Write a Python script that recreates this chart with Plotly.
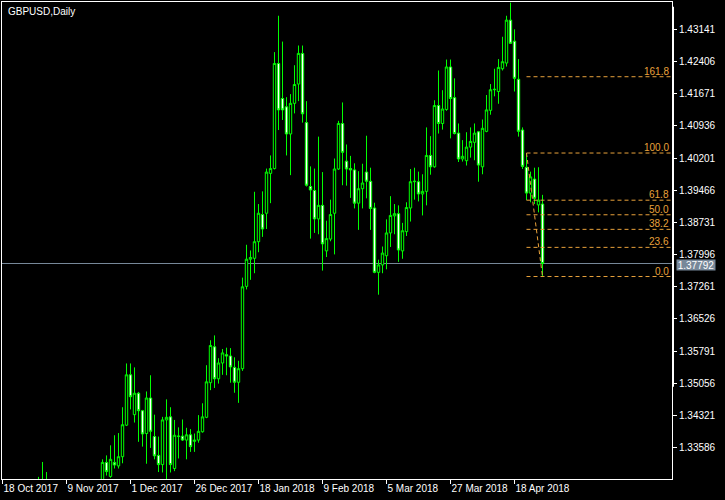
import pandas as pd
import plotly.graph_objects as go

# ---------------- data ----------------
title_text = "GBPUSD,Daily"

holidays = ["2017-12-25", "2018-01-01"]
first_day = "2017-10-18"
last_day = "2018-04-27"

# three early bars whose tops poke into the bottom of the window
early_dates = ["2017-10-31", "2017-11-01", "2017-11-02"]
early_open = [1.3250, 1.3280, 1.3265]
early_high = [1.3292, 1.3326, 1.3303]
early_low = [1.3200, 1.3240, 1.3030]
early_close = [1.3280, 1.3265, 1.3060]

# consecutive trading days starting 2017-11-22
main_start = "2017-11-22"
open_ = [1.3245, 1.3325, 1.3293, 1.3325, 1.3317, 1.3338, 1.3410, 1.3525, 1.3434, 1.3483,
         1.3443, 1.3391, 1.3472, 1.3384, 1.3341, 1.3320, 1.3422, 1.3429, 1.3311, 1.3384,
         1.3385, 1.3376, 1.3388, 1.3373, 1.3376, 1.3395, 1.3428, 1.3507, 1.3589, 1.3516,
         1.3552, 1.3571, 1.3568, 1.3542, 1.3508, 1.3539, 1.3727, 1.3789, 1.3791, 1.3829,
         1.3891, 1.3894, 1.3985, 1.3996, 1.4236, 1.4156, 1.4137, 1.4075, 1.4145, 1.4189,
         1.4259, 1.4101, 1.3955, 1.3946, 1.3881, 1.3912, 1.3808, 1.3835, 1.3894, 1.3995,
         1.4099, 1.4013, 1.3996, 1.3993, 1.3917, 1.3950, 1.3988, 1.3967, 1.3906, 1.3759,
         1.3776, 1.3797, 1.3849, 1.3888, 1.3893, 1.3808, 1.3852, 1.3906, 1.3966, 1.3966,
         1.3938, 1.3944, 1.4026, 1.4000, 1.4140, 1.4099, 1.4131, 1.4228, 1.4158, 1.4077,
         1.4018, 1.4014, 1.4045, 1.4056, 1.4080, 1.4000, 1.4081, 1.4129, 1.4176, 1.4172,
         1.4224, 1.4237, 1.4335, 1.4287, 1.4200, 1.4084, 1.3999, 1.3940, 1.3972, 1.3913,
         1.3915]
high = [1.3332, 1.3341, 1.3364, 1.3387, 1.3392, 1.3451, 1.3551, 1.3551, 1.3542, 1.3486,
        1.3445, 1.3487, 1.3524, 1.3434, 1.3384, 1.3429, 1.3469, 1.3451, 1.3422, 1.3405,
        1.3423, 1.3404, 1.3401, 1.3391, 1.3433, 1.3460, 1.3547, 1.3604, 1.3615, 1.3563,
        1.3584, 1.3587, 1.3586, 1.3565, 1.3557, 1.3747, 1.3822, 1.3809, 1.3943, 1.3915,
        1.3944, 1.3996, 1.4026, 1.4262, 1.4345, 1.4286, 1.4159, 1.4166, 1.4232, 1.4277,
        1.4277, 1.4150, 1.4001, 1.3996, 1.4069, 1.3988, 1.3877, 1.3925, 1.4019, 1.4105,
        1.4147, 1.4051, 1.4025, 1.4008, 1.3990, 1.4007, 1.4071, 1.3998, 1.3918, 1.3788,
        1.3818, 1.3880, 1.3933, 1.3915, 1.3912, 1.3872, 1.3919, 1.3995, 1.3998, 1.3989,
        1.3983, 1.4090, 1.4070, 1.4152, 1.4220, 1.4175, 1.4245, 1.4245, 1.4202, 1.4099,
        1.4061, 1.4079, 1.4090, 1.4099, 1.4082, 1.4108, 1.4164, 1.4189, 1.4224, 1.4246,
        1.4297, 1.4345, 1.4375, 1.4314, 1.4246, 1.4090, 1.4031, 1.3989, 1.3998, 1.3999,
        1.3936]
low = [1.3235, 1.3295, 1.3290, 1.3311, 1.3311, 1.3323, 1.3408, 1.3446, 1.3416, 1.3372,
       1.3361, 1.3322, 1.3358, 1.3332, 1.3303, 1.3302, 1.3280, 1.3302, 1.3305, 1.3334,
       1.3374, 1.3332, 1.3349, 1.3349, 1.3370, 1.3393, 1.3426, 1.3490, 1.3495, 1.3505,
       1.3525, 1.3524, 1.3507, 1.3484, 1.3461, 1.3534, 1.3720, 1.3742, 1.3757, 1.3805,
       1.3840, 1.3858, 1.3917, 1.3994, 1.4084, 1.4107, 1.4026, 1.3981, 1.4122, 1.4150,
       1.4101, 1.3955, 1.3836, 1.3849, 1.3846, 1.3763, 1.3794, 1.3830, 1.3800, 1.3993,
       1.3958, 1.3957, 1.3929, 1.3905, 1.3856, 1.3905, 1.3928, 1.3856, 1.3757, 1.3708,
       1.3757, 1.3766, 1.3817, 1.3846, 1.3783, 1.3790, 1.3842, 1.3875, 1.3925, 1.3921,
       1.3889, 1.3912, 1.3982, 1.3998, 1.4076, 1.4085, 1.4128, 1.4065, 1.4074, 1.4011,
       1.4012, 1.4003, 1.4021, 1.4015, 1.3966, 1.3983, 1.4079, 1.4119, 1.4161, 1.4144,
       1.4220, 1.4229, 1.4281, 1.4172, 1.4069, 1.3995, 1.3924, 1.3919, 1.3915, 1.3896,
       1.3750]
close = [1.3325, 1.3304, 1.3332, 1.3319, 1.3338, 1.3411, 1.3525, 1.3475, 1.3483, 1.3443,
         1.3390, 1.3472, 1.3396, 1.3340, 1.3320, 1.3422, 1.3428, 1.3320, 1.3387, 1.3385,
         1.3376, 1.3388, 1.3361, 1.3376, 1.3396, 1.3429, 1.3509, 1.3592, 1.3516, 1.3552,
         1.3575, 1.3568, 1.3543, 1.3508, 1.3539, 1.3726, 1.3789, 1.3793, 1.3829, 1.3894,
         1.3858, 1.3988, 1.3996, 1.4236, 1.4130, 1.4130, 1.4075, 1.4145, 1.4188, 1.4259,
         1.4121, 1.3958, 1.3947, 1.3881, 1.3912, 1.3824, 1.3836, 1.3891, 1.3995, 1.4099,
         1.4033, 1.3995, 1.3993, 1.3917, 1.3950, 1.3963, 1.3967, 1.3905, 1.3759, 1.3776,
         1.3803, 1.3849, 1.3889, 1.3893, 1.3810, 1.3854, 1.3907, 1.3966, 1.3967, 1.3938,
         1.3944, 1.4026, 1.4000, 1.4140, 1.4099, 1.4132, 1.4228, 1.4156, 1.4076, 1.4018,
         1.4024, 1.4045, 1.4058, 1.4077, 1.4004, 1.4088, 1.4130, 1.4176, 1.4177, 1.4227,
         1.4240, 1.4335, 1.4282, 1.4202, 1.4081, 1.4001, 1.3940, 1.3977, 1.3928, 1.3924,
         1.37792]

bid_price = 1.37792

y_ticks = [1.33586, 1.34321, 1.35056, 1.35791, 1.36526, 1.37261, 1.37996,
           1.38731, 1.39466, 1.40201, 1.40936, 1.41671, 1.42406, 1.43141]
y_range = [1.32871, 1.43764]

x_tick_dates = ["2017-10-18", "2017-11-09", "2017-12-01", "2017-12-26", "2018-01-18",
                "2018-02-09", "2018-03-05", "2018-03-27", "2018-04-18"]
x_tick_text = ["18 Oct 2017", "9 Nov 2017", "1 Dec 2017", "26 Dec 2017", "18 Jan 2018",
               "9 Feb 2018", "5 Mar 2018", "27 Mar 2018", "18 Apr 2018"]
bars_visible = 167.5   # bar slots across the window

# Fibonacci retracement
fib_start_date, fib_high = "2018-04-23", 1.40315
fib_end_date, fib_low = "2018-04-27", 1.37495
fib_levels = [0.0, 23.6, 38.2, 50.0, 61.8, 100.0, 161.8]

# ---------------- build ----------------
days = pd.bdate_range(first_day, last_day)
days = days[~days.isin(pd.to_datetime(holidays))]
pos = {d.strftime("%Y-%m-%d"): i for i, d in enumerate(days)}

main_x = [pos[main_start] + k for k in range(len(open_))]
early_x = [pos[d] for d in early_dates]

GREEN = "#00FF00"
FIB = "#E9A23B"
FONT = "Liberation Sans"

fig = go.Figure()
for xs, o, h, l, c in [(early_x, early_open, early_high, early_low, early_close),
                       (main_x, open_, high, low, close)]:
    fig.add_trace(go.Candlestick(
        x=xs, open=o, high=h, low=l, close=c,
        increasing=dict(line=dict(color=GREEN, width=1), fillcolor="black"),
        decreasing=dict(line=dict(color=GREEN, width=1), fillcolor="white"),
        whiskerwidth=0, showlegend=False, hoverinfo="skip"))

x0 = -0.125
x1 = x0 + bars_visible

shapes = []
# bid line
shapes.append(dict(type="line", xref="paper", x0=0, x1=1, yref="y", y0=bid_price, y1=bid_price,
                   line=dict(color="#778899", width=1), layer="below"))
# fib levels
fx0 = pos[fib_start_date]
fx1 = pos[fib_end_date]
for lv in fib_levels:
    yv = fib_low + (fib_high - fib_low) * lv / 100.0
    shapes.append(dict(type="line", xref="x", x0=fx0, x1=x1, yref="y", y0=yv, y1=yv,
                       line=dict(color=FIB, width=1, dash="4px,3px")))
shapes.append(dict(type="line", xref="x", x0=fx0, x1=fx1, yref="y", y0=fib_high, y1=fib_low,
                   line=dict(color=FIB, width=1, dash="4px,3px")))
# thick part of right border
shapes.append(dict(type="line", xref="paper", x0=1.0015, x1=1.0015, yref="paper",
                   y0=0.1935, y1=0.99, line=dict(color="white", width=2)))

annotations = []
annotations.append(dict(text=title_text, xref="paper", yref="paper", x=0, y=1,
                        xanchor="left", yanchor="top", xshift=4, yshift=-2, showarrow=False,
                        font=dict(family=FONT, size=10, color="white")))
for lv in fib_levels:
    yv = fib_low + (fib_high - fib_low) * lv / 100.0
    annotations.append(dict(text=f"{lv:.1f}", xref="paper", yref="y", x=1, y=yv,
                            xanchor="right", yanchor="bottom", xshift=-1, yshift=-2,
                            showarrow=False, font=dict(family=FONT, size=10, color=FIB)))
annotations.append(dict(text=f"{bid_price:.5f}", xref="paper", yref="y", x=1, y=bid_price,
                        xanchor="left", yanchor="middle", xshift=4, yshift=-1,
                        width=38, height=10, showarrow=False,
                        bgcolor="#778899", borderpad=0,
                        font=dict(family=FONT, size=10, color="white")))

fig.update_layout(
    width=725, height=500,
    margin=dict(l=2, r=53, t=2, b=21, autoexpand=False),
    paper_bgcolor="black", plot_bgcolor="black",
    boxgap=0.4, boxgroupgap=0,
    shapes=shapes, annotations=annotations,
    font=dict(family=FONT, size=10, color="white"),
    xaxis=dict(range=[x0, x1], showgrid=False, zeroline=False, automargin=False,
               showline=True, linecolor="white", linewidth=1, mirror=True,
               ticks="outside", ticklen=4, tickcolor="white", tickangle=0,
               tickvals=[pos[d] for d in x_tick_dates], ticktext=x_tick_text,
               ticklabelposition="outside right",
               tickfont=dict(family=FONT, size=10, color="white"),
               rangeslider=dict(visible=False), fixedrange=True),
    yaxis=dict(range=y_range, side="right", showgrid=False, zeroline=False, automargin=False,
               showline=True, linecolor="white", linewidth=1, mirror=True,
               ticks="outside", ticklen=4, tickcolor="white",
               tickvals=y_ticks, ticktext=[f"{v:.5f}" for v in y_ticks],
               tickfont=dict(family=FONT, size=10, color="white"), fixedrange=True),
)

fig.write_html("out.html", config={"displayModeBar": False},
               post_script="document.body.style.margin='0';")
